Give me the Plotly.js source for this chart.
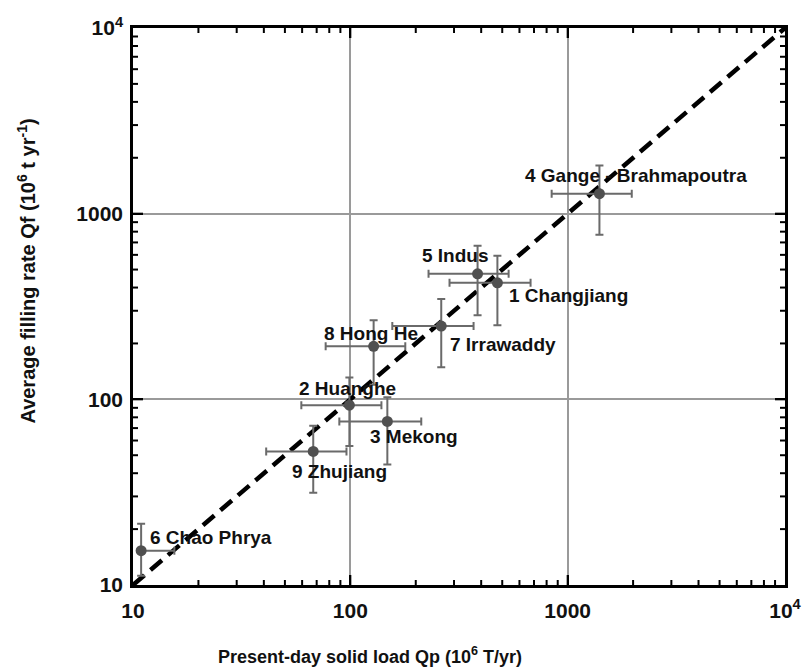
<!DOCTYPE html>
<html>
<head>
<meta charset="utf-8">
<script src="https://cdn.plot.ly/plotly-3.0.1.min.js"></script>
<style>html,body{margin:0;padding:0;background:#fff;}#chart{width:812px;height:668px;}</style>
</head>
<body>
<div id="chart"></div>
<script>
// River data (10^6 t/yr)
var rivers = ['1 Changjiang','2 Huanghe','3 Mekong','4 Gange - Brahmapoutra','5 Indus','6 Chao Phrya','7 Irrawaddy','8 Hong He','9 Zhujiang'];
var qp     = [475, 99, 148, 1400, 385, 10.9, 262, 128, 67.5];
var qpLow  = [286, 59.5, 89, 844, 229, 10.9, 156, 77, 41];
var qpHigh = [675, 139, 212, 1972, 535, 15.5, 369, 179, 96];
var qf     = [424, 93, 76, 1282, 474, 15.3, 248, 193, 52.4];
var qfLow  = [251, 56, 44.6, 769, 284, 11.2, 149, 120, 31.4];
var qfHigh = [593, 131, 102.5, 1815, 671, 21.4, 347, 267, 72];
var lineX = [10, 10000];
var lineY = [10, 10000];
var majorTicks = [10, 100, 1000, 10000];
var tickLabelAlias = {'10k': '10<sup>4</sup>', '10000': '10<sup>4</sup>', '10,000': '10<sup>4</sup>', '1k': '1000'};

// label offsets in pixels relative to each point (xshift, yshift, anchor)
var labelShift = [[10, -13, 'left'], [-2, 17, 'center'], [27, -15, 'center'], [37, 18, 'center'],
                  [-22, 18, 'center'], [7, 13, 'left'], [7, -18, 'left'], [-3, 13, 'center'], [26, -20, 'center']];

var logRange = [1, 4];
var minorTicks = [];
[10, 100, 1000].forEach(function (d) { for (var k = 2; k <= 9; k++) minorTicks.push(d * k); });

var font = {family: 'Liberation Sans, Arial, Helvetica, sans-serif', color: '#111'};

var traces = [
  {x: lineX, y: lineY, mode: 'lines', line: {color: '#000', width: 4.5, dash: '15px,8px'}, hoverinfo: 'skip'},
  {x: qp, y: qf, mode: 'markers', type: 'scatter', marker: {size: 11, color: '#505050'},
   error_x: {type: 'data', symmetric: false,
             array: qp.map(function (v, i) { return qpHigh[i] - v; }),
             arrayminus: qp.map(function (v, i) { return v - qpLow[i]; }),
             color: '#6a6a6a', thickness: 2, width: 4},
   error_y: {type: 'data', symmetric: false,
             array: qf.map(function (v, i) { return qfHigh[i] - v; }),
             arrayminus: qf.map(function (v, i) { return v - qfLow[i]; }),
             color: '#6a6a6a', thickness: 2, width: 4}}
];

var annotations = rivers.map(function (name, i) {
  return {x: Math.log10(qp[i]), y: Math.log10(qf[i]), xref: 'x', yref: 'y', text: name, showarrow: false,
          xanchor: labelShift[i][2], yanchor: 'middle', xshift: labelShift[i][0], yshift: labelShift[i][1],
          font: Object.assign({}, font, {size: 19, weight: 'bold'})};
});
annotations.push({xref: 'paper', yref: 'paper', x: 0.364, y: -0.126, xanchor: 'center', yanchor: 'middle',
  text: 'Present-day solid load Qp (10<sup>6</sup> T/yr)', showarrow: false,
  font: Object.assign({}, font, {size: 18, weight: 'bold'})});
annotations.push({xref: 'paper', yref: 'paper', x: -0.163, y: 0.564, xanchor: 'center', yanchor: 'middle', textangle: -90,
  text: 'Average filling rate Qf (10<sup>6</sup> t yr<sup>-1</sup>)', showarrow: false,
  font: Object.assign({}, font, {size: 20, weight: 'bold'})});

// tick marks on all four sides (inside), placed at the tick values' fraction of the log range
function frac(v) { return (Math.log10(v) - logRange[0]) / (logRange[1] - logRange[0]); }
var shapes = [];
function addTicks(vals, len) {
  vals.forEach(function (v) {
    var f = frac(v);
    if (f <= 0.001 || f >= 0.999) return;
    var ln = {color: '#000', width: 2};
    shapes.push({type: 'line', xref: 'paper', yref: 'paper', x0: f, x1: f, ysizemode: 'pixel', yanchor: 0, y0: 0, y1: len, line: ln});
    shapes.push({type: 'line', xref: 'paper', yref: 'paper', x0: f, x1: f, ysizemode: 'pixel', yanchor: 1, y0: 0, y1: -len, line: ln});
    shapes.push({type: 'line', xref: 'paper', yref: 'paper', y0: f, y1: f, xsizemode: 'pixel', xanchor: 0, x0: 0, x1: len, line: ln});
    shapes.push({type: 'line', xref: 'paper', yref: 'paper', y0: f, y1: f, xsizemode: 'pixel', xanchor: 1, x0: 0, x1: -len, line: ln});
  });
}
addTicks(majorTicks, 10);
addTicks(minorTicks, 5);

function axis() {
  return {type: 'log', range: logRange, tickmode: 'linear', tick0: 0, dtick: 1,
          labelalias: tickLabelAlias,
          ticks: 'inside', ticklen: 10, tickwidth: 2, tickcolor: '#000',
          showline: true, linecolor: '#000', linewidth: 2.5, mirror: 'ticks',
          showgrid: true, gridcolor: '#9a9a9a', gridwidth: 1.5, zeroline: false,
          tickfont: Object.assign({}, font, {size: 21, weight: 'bold'})};
}

var layout = {
  width: 812, height: 668,
  margin: {l: 133, r: 27, t: 28, b: 83},
  showlegend: false,
  xaxis: Object.assign(axis(), {ticklabelstandoff: 5}),
  yaxis: Object.assign(axis(), {ticklabelstandoff: 3}),
  annotations: annotations,
  shapes: shapes
};

Plotly.newPlot('chart', traces, layout, {displayModeBar: false});
</script>
</body>
</html>
